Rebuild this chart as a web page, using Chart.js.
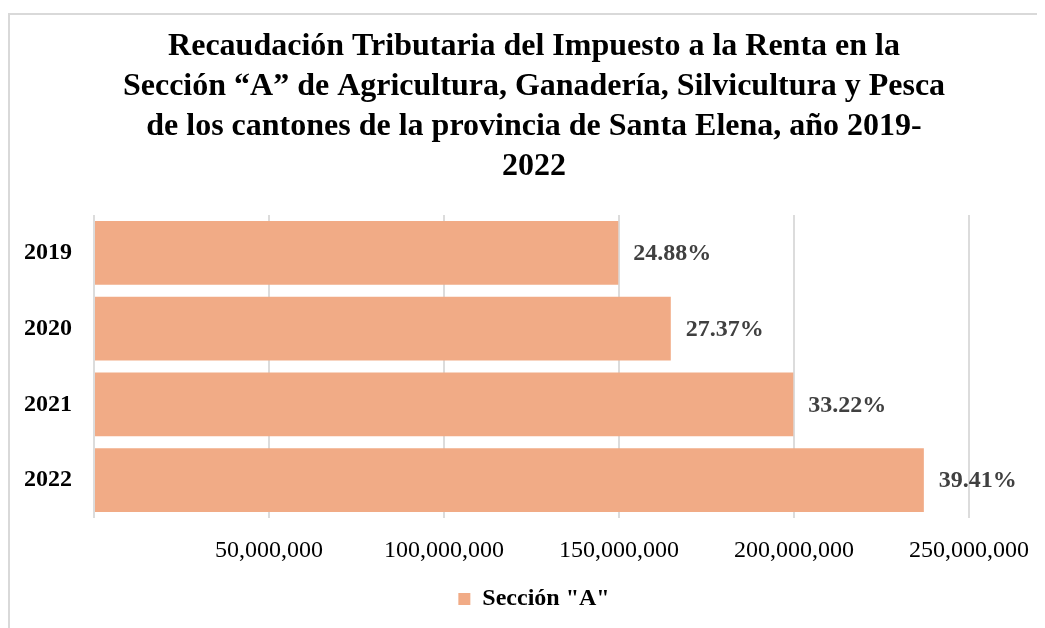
<!DOCTYPE html>
<html>
<head>
<meta charset="utf-8">
<script src="https://cdn.jsdelivr.net/npm/chart.js@4.4.1/dist/chart.umd.min.js"></script>
<style>
    html, body { margin: 0; padding: 0; background: #fff; overflow: hidden; }
    #frame {
        position: absolute; left: 8px; top: 13px; width: 1027px; height: 620px;
        border-top: 2px solid #d9d9d9; border-left: 2px solid #d9d9d9;
    }
    #wrap { position: absolute; left: 0; top: 0; width: 1068px; height: 628px; }
</style>
</head>
<body>
<div id="frame"></div>
<div id="wrap"><canvas id="mainChart"></canvas></div>
<script>
const years = ['2019', '2020', '2021', '2022'];
const seccionA = [149800000, 164800000, 199800000, 237100000];
const shares = ['24.88%', '27.37%', '33.22%', '39.41%'];
const titleLines = [
    'Recaudación Tributaria del Impuesto a la Renta en la',
    'Sección “A” de Agricultura, Ganadería, Silvicultura y Pesca',
    'de los cantones de la provincia de Santa Elena, año 2019-',
    '2022'
];
const xTicks = [0, 50000000, 100000000, 150000000, 200000000, 250000000];

const serif = 'Liberation Serif, Times New Roman, serif';

// share labels next to each bar
const shareLabels = {
    id: 'shareLabels',
    afterDatasetsDraw(chart) {
        const ctx = chart.ctx;
        const meta = chart.getDatasetMeta(0);
        ctx.save();
        ctx.font = 'bold 24px ' + serif;
        ctx.fillStyle = '#404040';
        ctx.textAlign = 'left';
        ctx.textBaseline = 'middle';
        meta.data.forEach((bar, i) => {
            ctx.fillText(shares[i], bar.x + 15, bar.y + 1);
        });
        ctx.restore();
    }
};

document.addEventListener('DOMContentLoaded', () => {
    const ctx = document.getElementById('mainChart').getContext('2d');
    new Chart(ctx, {
        type: 'bar',
        data: {
            labels: years,
            datasets: [{
                label: 'Sección "A"',
                data: seccionA,
                backgroundColor: '#F1AB86',
                borderWidth: 0,
                categoryPercentage: 0.84,
                barPercentage: 1
            }]
        },
        options: {
            indexAxis: 'y',
            responsive: true,
            maintainAspectRatio: false,
            animation: false,
            layout: {
                padding: { top: 13, left: 0, right: 0, bottom: 7 }
            },
            plugins: {
                title: {
                    display: true,
                    text: titleLines,
                    color: '#000',
                    font: { family: serif, size: 32, weight: 'bold', lineHeight: 1.25 },
                    padding: { top: 14, bottom: 28 }
                },
                legend: {
                    position: 'bottom',
                    labels: {
                        color: '#000',
                        boxWidth: 12,
                        boxHeight: 12,
                        font: { family: serif, size: 24, weight: 'bold' }
                    }
                },
                tooltip: { enabled: false }
            },
            scales: {
                x: {
                    min: 0,
                    max: 250000000,
                    afterBuildTicks: scale => {
                        scale.ticks = xTicks.map(v => ({ value: v }));
                    },
                    afterFit: scale => { scale.height = 59; },
                    grid: {
                        color: '#dcdcdc',
                        lineWidth: 2,
                        drawTicks: false
                    },
                    border: { display: false },
                    ticks: {
                        color: '#000',
                        padding: 18,
                        maxRotation: 0,
                        font: { family: serif, size: 24 },
                        callback: value => value === 0 ? '' : value.toLocaleString('en-US')
                    }
                },
                y: {
                    afterFit: scale => { scale.width = 94; },
                    grid: { display: false, drawTicks: false },
                    border: { display: false },
                    ticks: {
                        color: '#000',
                        padding: 22,
                        font: { family: serif, size: 24, weight: 'bold' }
                    }
                },
                pad: {
                    type: 'linear',
                    position: 'right',
                    afterFit: scale => { scale.width = 99; },
                    grid: { display: false },
                    border: { display: false },
                    ticks: { display: false }
                }
            }
        },
        plugins: [shareLabels]
    });
});
</script>
</body>
</html>
